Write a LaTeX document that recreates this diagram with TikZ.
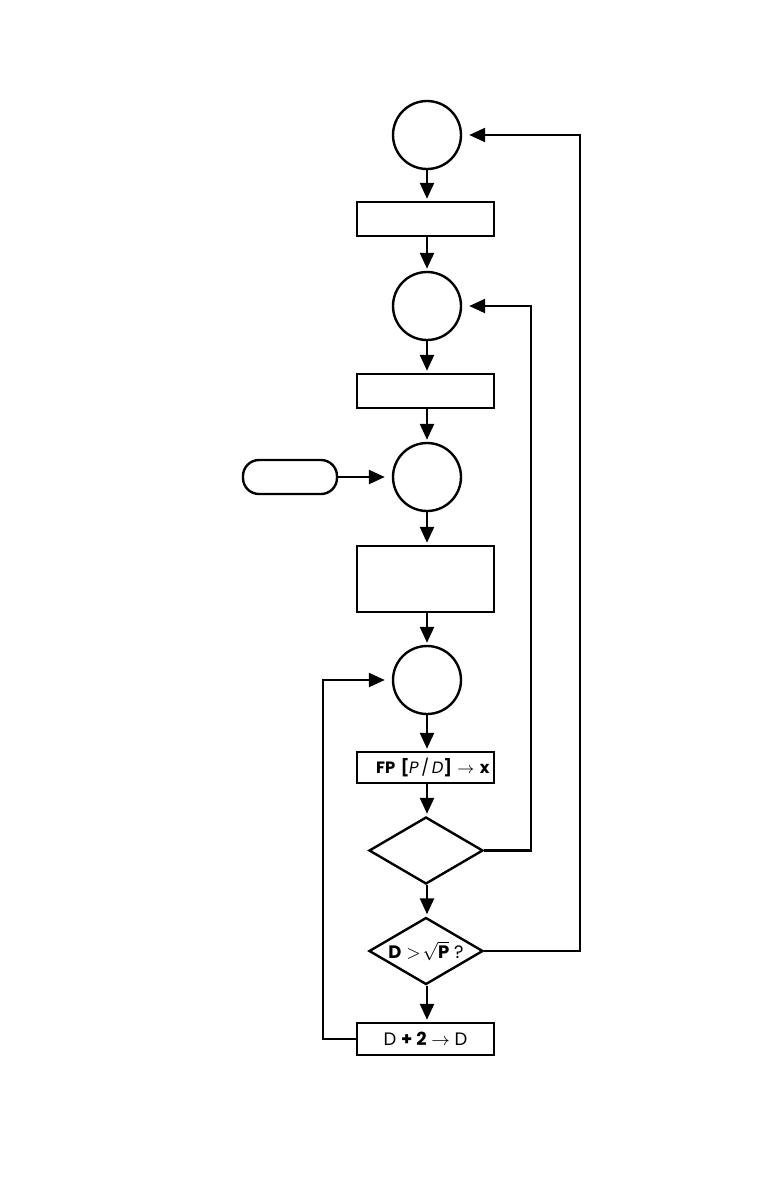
\documentclass[tikz,border=0pt]{standalone}
\usepackage{fontspec}
\setmainfont{Poppins}
\usetikzlibrary{positioning, arrows.meta, shapes.geometric, calc}

\begin{document}
\begin{tikzpicture}[
        x=0.5pt, y=-0.5pt,
        >={Triangle[length=8pt, width=7pt]},
        line width=1.2pt,
        shorten >=1pt,
        font=\fontsize{9}{11}\selectfont,
        state/.style={circle, draw, minimum size=34pt, inner sep=0pt},
        stepbox/.style={rectangle, draw, minimum width=68.5pt, minimum height=17pt, inner sep=0pt},
        decision/.style={diamond, draw, minimum width=57pt, minimum height=33.5pt, inner sep=0pt, aspect=1.7},
        terminal/.style={rectangle, draw, rounded corners=8pt, minimum width=47pt, minimum height=17pt, inner sep=0pt},
        loopback/.style={->, shorten >=3.5pt},
    ]
    \useasboundingbox (0,0) rectangle (774,1200);

        % Draw the states of the main column
        \foreach \name / \y in {1/135, 2/306, 3/477, 4/680}
            \node[state] (C-\name) at (427,\y) {};

        % Draw the step boxes
        \foreach \name / \y in {1/219, 2/391}
            \node[stepbox] (B-\name) at (425.5,\y) {};
        \node[stepbox, minimum height=33pt] (B-3) at (425.5,579) {};
        \node[stepbox, minimum height=15.5pt, text width=64pt, align=right,
              font=\fontsize{8.2}{10}\selectfont] (B-4) at (425.5,767.5)
            {\textbf{FP [}\textit{P}\,/\,\textit{D}\textbf{]} $\rightarrow$ \textbf{x}};
        \node[stepbox, minimum height=16pt] (B-5) at (425.5,1039)
            {D \textbf{+ 2} $\rightarrow$ D};

        % Draw the decisions
        \node[decision] (D-1) at (426,850.5) {};
        \node[decision] (D-2) at (426,951) {\textbf{D} $>\!\sqrt{\textbf{P}}$ ?};

        % Draw the entry
        \node[terminal] (T) at (290,477) {};

        % Connect the main column
        \foreach \source / \dest in {C-1/B-1, B-1/C-2, C-2/B-2, B-2/C-3, C-3/B-3,
                B-3/C-4, C-4/B-4, B-4/D-1, D-1/D-2, D-2/B-5}
            \draw[->] (\source.south -| C-1) -- (\dest.north -| C-1);

        \draw[loopback] (T) -- (C-3);

        % Loops back up
        \draw[loopback] (D-1.east) -- ++(47,0) |- (C-2.east);
        \draw[loopback] (D-2.east) -- ++(96,0) |- (C-1.east);
        \draw[loopback] (B-5.west) -- ++(-33,0) |- (C-4.west);
\end{tikzpicture}
\end{document}
